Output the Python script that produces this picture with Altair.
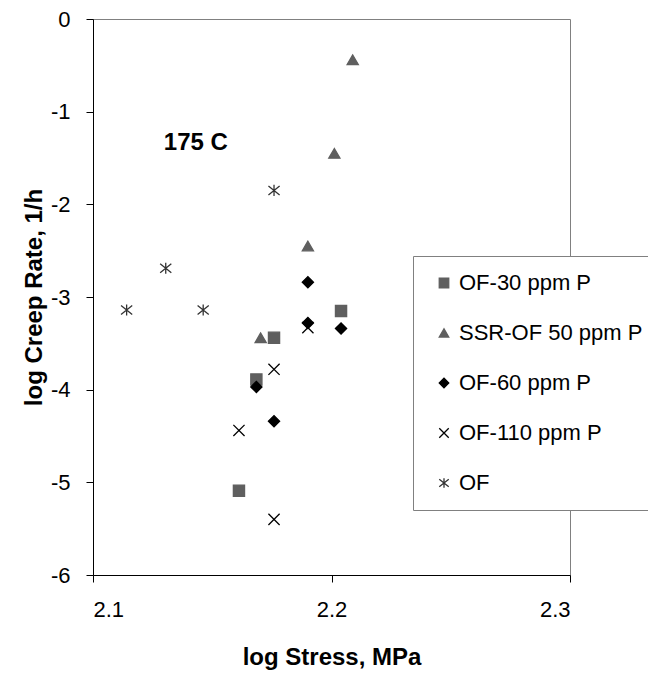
import altair as alt
import pandas as pd

series_names = ["OF-30 ppm P", "SSR-OF 50 ppm P", "OF-60 ppm P", "OF-110 ppm P", "OF"]

of30_x = [2.1612, 2.1685, 2.1759, 2.2040]
of30_y = [-5.09, -3.89, -3.44, -3.15]

ssr50_x = [2.1703, 2.1901, 2.2012, 2.2089]
ssr50_y = [-3.44, -2.45, -1.45, -0.44]

of60_x = [2.1685, 2.1759, 2.1901, 2.1901, 2.2040]
of60_y = [-3.97, -4.34, -2.84, -3.28, -3.34]

of110_x = [2.1612, 2.1759, 2.1759, 2.1901]
of110_y = [-4.44, -3.78, -5.40, -3.33]

of_x = [2.1141, 2.1305, 2.1462, 2.1759]
of_y = [-3.14, -2.69, -3.14, -1.85]

x_ticks = [2.1, 2.2, 2.3]
y_ticks = [-6, -5, -4, -3, -2, -1, 0]

note_text = ["175 C"]
note_x = [2.1431]
note_y = [-1.34]

rows = []
for name, xs, ys in zip(series_names,
                        [of30_x, ssr50_x, of60_x, of110_x, of_x],
                        [of30_y, ssr50_y, of60_y, of110_y, of_y]):
    for x, y in zip(xs, ys):
        rows.append({"series": name, "stress": x, "rate": y})
df = pd.DataFrame(rows)

FONT = "Liberation Sans"
asterisk = "M0,-1L0,1M-1,-0.8L1,0.8M-1,0.8L1,-0.8"
xmark = "M-1,-1L1,1M-1,1L1,-1"

shape_range = ["square", "triangle-up", "diamond", xmark, asterisk]
fill_range = ["#5f5f5f", "#5f5f5f", "#000000", "transparent", "transparent"]
stroke_range = ["#5f5f5f", "#5f5f5f", "#000000", "#000000", "#333333"]

xscale = alt.Scale(domain=[2.1, 2.3], nice=False, zero=False)
yscale = alt.Scale(domain=[-6, 0], nice=False, zero=False)

points = alt.Chart(df).mark_point(filled=True, opacity=1, strokeWidth=1.3, size=125).encode(
    x=alt.X("stress:Q", scale=xscale,
            axis=alt.Axis(values=x_ticks, format=".1f", title="log Stress, MPa",
                          titleY=89, titleBaseline="alphabetic", labelPadding=17)),
    y=alt.Y("rate:Q", scale=yscale,
            axis=alt.Axis(values=y_ticks, labelExpr="'' + datum.value", title="log Creep Rate, 1/h",
                          titleX=-52, titleY=278, titleAngle=270, titleBaseline="alphabetic",
                          titleAlign="center", labelPadding=16)),
    shape=alt.Shape("series:N", scale=alt.Scale(domain=series_names, range=shape_range),
                    legend=alt.Legend(title=None, orient="none", legendX=320, legendY=237,
                                      labelLimit=400)),
    fill=alt.Fill("series:N", scale=alt.Scale(domain=series_names, range=fill_range)),
    stroke=alt.Stroke("series:N", scale=alt.Scale(domain=series_names, range=stroke_range)),
)

note_df = pd.DataFrame({"label": note_text, "x": note_x, "y": note_y})
note = alt.Chart(note_df).mark_text(font=FONT, fontSize=24, fontWeight="bold", color="black",
                                    align="center", baseline="middle").encode(
    x=alt.X("x:Q", scale=xscale),
    y=alt.Y("y:Q", scale=yscale),
    text="label:N",
)

chart = alt.layer(points, note).properties(
    width=477, height=556,
    padding={"left": 93, "top": 19, "right": 78, "bottom": 100},
    autosize=alt.AutoSizeParams(type="none"),
    background="white",
).configure_view(
    stroke="#808080", strokeWidth=1
).configure_axis(
    grid=False, domainColor="#000000", domainWidth=1, tickColor="#000000", tickSize=7,
    labelFont=FONT, labelFontSize=22, labelColor="#000000",
    titleFont=FONT, titleFontSize=24, titleFontWeight="bold", titleColor="#000000",
).configure_legend(
    strokeColor="#808080", fillColor="white", padding=16, rowPadding=28,
    labelFont=FONT, labelFontSize=22, labelColor="#000000", labelLimit=400,
    symbolSize=90, symbolStrokeWidth=1.3, symbolOffset=4, labelOffset=4,
)

chart.save("out.html", embed_options={"renderer": "svg", "actions": False})
